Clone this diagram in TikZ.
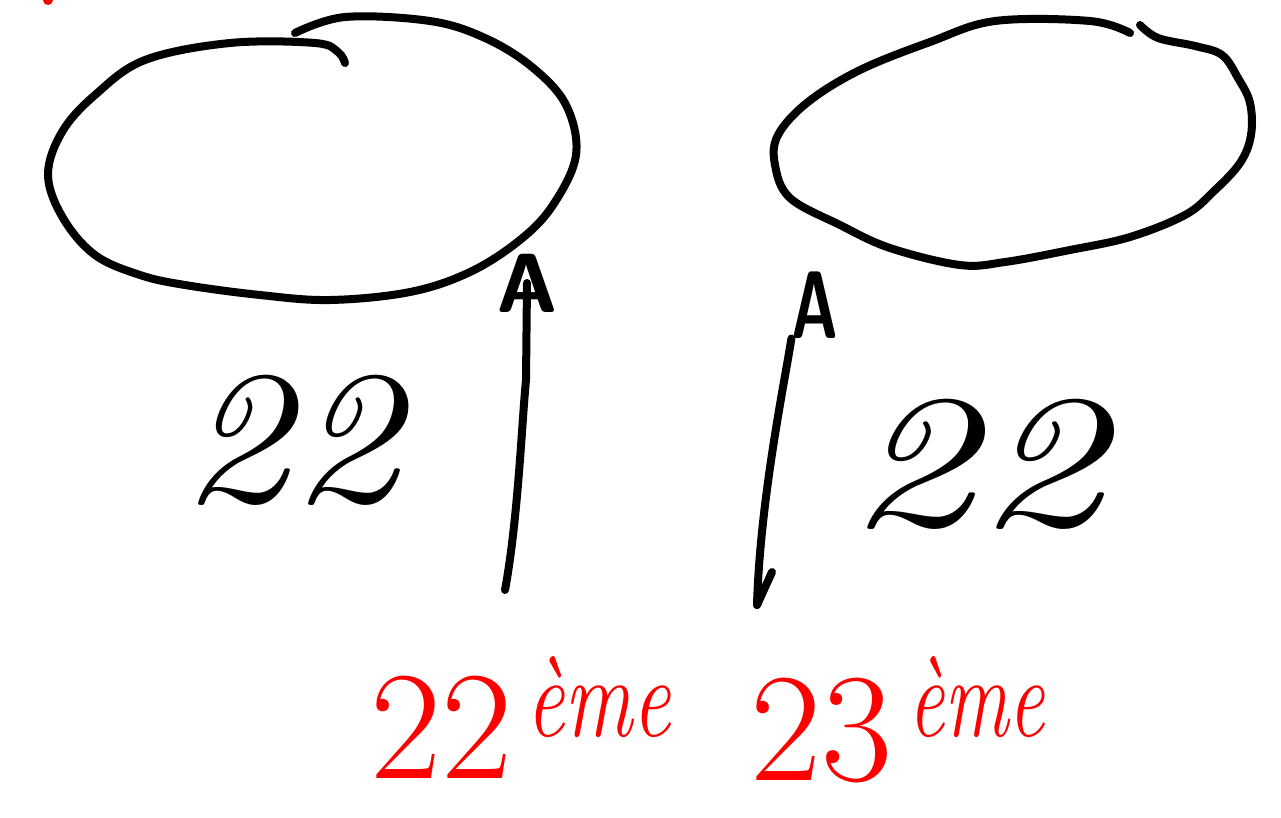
\documentclass[tikz,border=0pt]{standalone}
\usepackage{graphicx}
\tikzset{
  pen/.style={line width=8pt, line cap=round, line join=round, black},
  redpen/.style={text=red},
  big/.style={font=\fontsize{190}{190}\selectfont, inner sep=0pt},
  redbig/.style={font=\fontsize{155}{155}\selectfont, inner sep=0pt, text=red},
  sup/.style={font=\fontsize{115}{115}\selectfont, inner sep=0pt},
  letterA/.style={font=\fontsize{80}{80}\selectfont\sffamily\bfseries, inner sep=0pt},
}
\begin{document}
\begin{tikzpicture}[x=1pt,y=-1pt]
\useasboundingbox (0,0) rectangle (1281,817);
% red dot
\fill[red] (48,0) circle (5);
% left ellipse
\draw[pen] plot[smooth, tension=0.6] coordinates {(345,63) (338,52) (315,43) (230,43) (145,60) (95,95) (62,132) (48,175) (63,218) (95,255) (140,275) (185,285) (260,295) (330,300) (410,292) (470,272) (520,240) (553,205) (576,155) (566,105) (532,67) (485,38) (430,21) (345,17) (295,33)};
% right ellipse
\draw[pen] plot[smooth, tension=0.6] coordinates {(1140,25) (1158,38) (1195,46) (1222,55) (1238,78) (1250,103) (1251,135) (1240,163) (1213,192) (1185,215) (1130,237) (1070,250) (1005,262) (960,265) (890,248) (840,225) (790,198) (775,165) (778,135) (808,102) (860,70) (930,42) (995,21) (1090,21) (1130,33)};
% arrow heads as letters
\node[letterA, scale=1.05] (A1) at (527,283) {A};
\node[letterA, xscale=0.8, yscale=1.2] (A2) at (815,305) {A};
\coordinate (t1) at (505,590);
\coordinate (t2) at (757,605);
\coordinate (t2b) at (772,572);
\draw[pen] (t1) .. controls (518,520) and (522,420) .. (526,380) -- (A1.center);
\draw[pen] (t2) .. controls (760,500) and (785,380) .. (A2.south west);
\draw[pen] (t2) -- (t2b);
% black numbers
\node[big] (n1) at (290,440) {\scalebox{1.15}[1]{\itshape 22}};
\node[big] (n2) at (975,464) {\scalebox{1.35}[1]{\itshape 22}};
% red labels
\node[redbig, anchor=base west] (r1) at (370,778) {22};
\node[sup, redpen, anchor=base west] (r1s) at (526,736) {\scalebox{0.74}[1]{\itshape ème}};
\node[redbig, anchor=base west] (r2) at (750,780) {23};
\node[sup, redpen, anchor=base west] (r2s) at (908,736) {\scalebox{0.70}[1]{\itshape ème}};
\end{tikzpicture}
\end{document}
